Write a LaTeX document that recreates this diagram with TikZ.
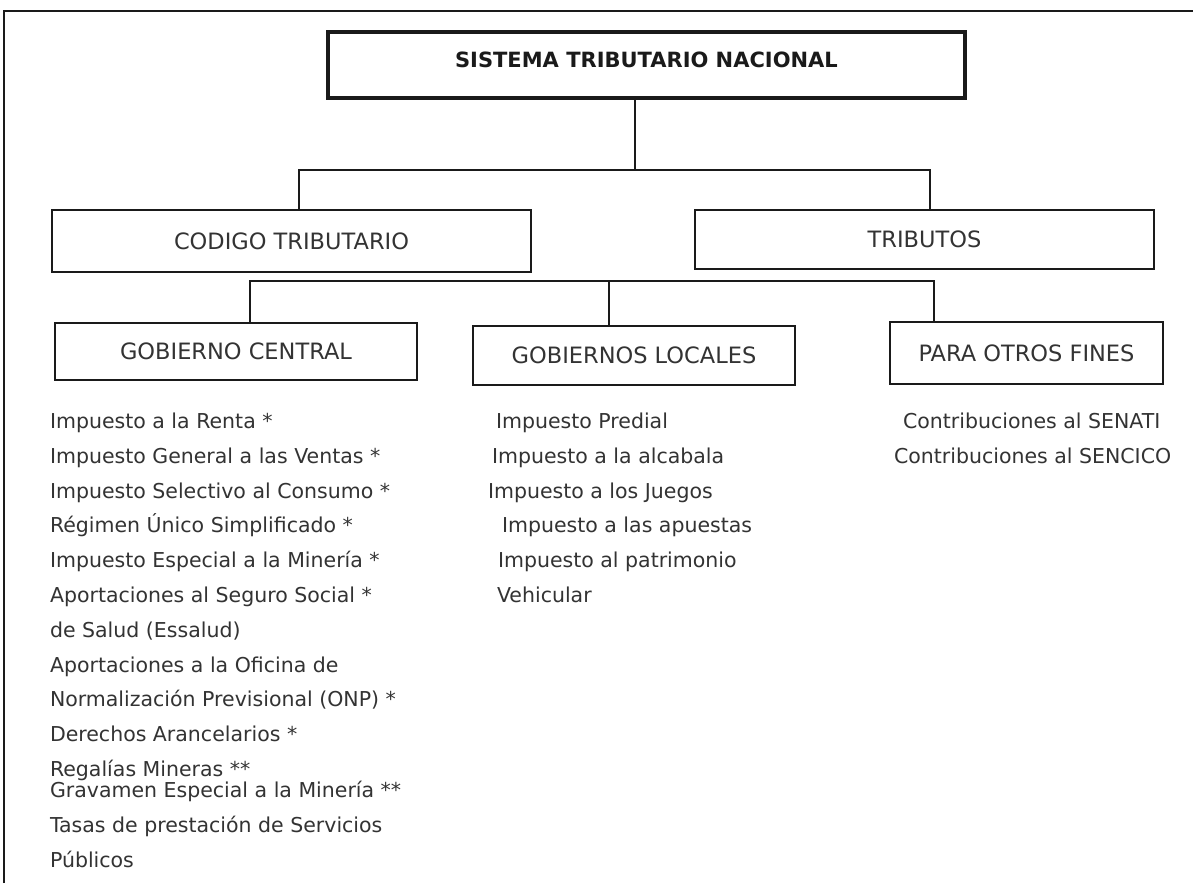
\documentclass[tikz,border=0pt]{standalone}
\usepackage{fontspec}
\setmainfont{DejaVu Sans}
\definecolor{ink}{HTML}{1A1A1A}
\definecolor{txt}{HTML}{333333}
\begin{document}
\begin{tikzpicture}[x=1pt,y=-1pt,
  box/.style={draw=ink, line width=1.8pt, inner sep=0pt, outer sep=0pt,
    font=\fontsize{22.5}{27}\selectfont, text=txt},
  titlebox/.style={box, line width=3.5pt, font=\fontsize{21}{25}\selectfont\bfseries, text=ink},
  conn/.style={draw=ink, line width=1.6pt},
  item/.style={anchor=west, inner sep=0pt, outer sep=0pt, text height=14.5pt, text depth=4.5pt,
    font=\fontsize{20.5}{24}\selectfont, text=txt},
  frame/.style={draw=ink, line width=2.2pt}]
\useasboundingbox (0,0) rectangle (1193,883);
\fill[white] (0,0) rectangle (1193,883);
% outer frame (only left and top edges visible)
\draw[frame] (4,883) -- (4,11) -- (1193,11);

% boxes
\node[titlebox, minimum width=637pt, minimum height=66pt, text depth=10pt] (sys) at (646.5,65) {SISTEMA TRIBUTARIO NACIONAL};
\node[box, minimum width=479pt, minimum height=62pt] (cod) at (291.5,241) {CODIGO TRIBUTARIO};
\node[box, minimum width=459pt, minimum height=59pt] (trib) at (924.5,239.5) {TRIBUTOS};
\node[box, minimum width=362pt, minimum height=57pt] (gc) at (236,351.5) {GOBIERNO CENTRAL};
\node[box, minimum width=322pt, minimum height=59pt] (gl) at (634,355.5) {GOBIERNOS LOCALES};
\node[box, minimum width=273pt, minimum height=62pt] (pof) at (1026.5,353) {PARA OTROS FINES};

% connectors
\coordinate (t1) at (635,170);
\coordinate (l1) at (299,170);
\coordinate (r1) at (930,170);
\draw[conn] (t1 |- sys.south) -- (t1);
\draw[conn] (cod.north -| l1) -- (l1) -- (r1) -- (trib.north -| r1);
\coordinate (l2) at (250,281);
\coordinate (m2) at (609,281);
\coordinate (r2) at (934,281);
\draw[conn] (gc.north -| l2) -- (l2) -- (r2) -- (pof.north -| r2);
\draw[conn] (m2) -- (gl.north -| m2);

% Gobierno central list
\node[item] (c1) at (50,423) {Impuesto a la Renta *};
\node[item] (c2) at (50,458) {Impuesto General a las Ventas *};
\node[item] (c3) at (50,493) {Impuesto Selectivo al Consumo *};
\node[item] (c4) at (50,527) {Régimen Único Simplificado *};
\node[item] (c5) at (50,562) {Impuesto Especial a la Minería *};
\node[item] (c6) at (50,597) {Aportaciones al Seguro Social *};
\node[item] (c7) at (50,632) {de Salud (Essalud)};
\node[item] (c8) at (50,667) {Aportaciones a la Oficina de};
\node[item] (c9) at (50,701) {Normalización Previsional (ONP) *};
\node[item] (c10) at (50,736) {Derechos Arancelarios *};
\node[item] (c11) at (50,771) {Regalías Mineras **};
\node[item] (c12) at (50,792) {Gravamen Especial a la Minería **};
\node[item] (c13) at (50,827) {Tasas de prestación de Servicios};
\node[item] (c14) at (50,862) {Públicos};

% Gobiernos locales list
\node[item] (m1) at (496,423) {Impuesto Predial};
\node[item] (m2t) at (492,458) {Impuesto a la alcabala};
\node[item] (m3) at (488,493) {Impuesto a los Juegos};
\node[item] (m4) at (502,527) {Impuesto a las apuestas};
\node[item] (m5) at (498,562) {Impuesto al patrimonio};
\node[item] (m6) at (497,597) {Vehicular};

% Otros fines list
\node[item] (o1) at (903,423) {Contribuciones al SENATI};
\node[item] (o2) at (894,458) {Contribuciones al SENCICO};
\end{tikzpicture}
\end{document}
